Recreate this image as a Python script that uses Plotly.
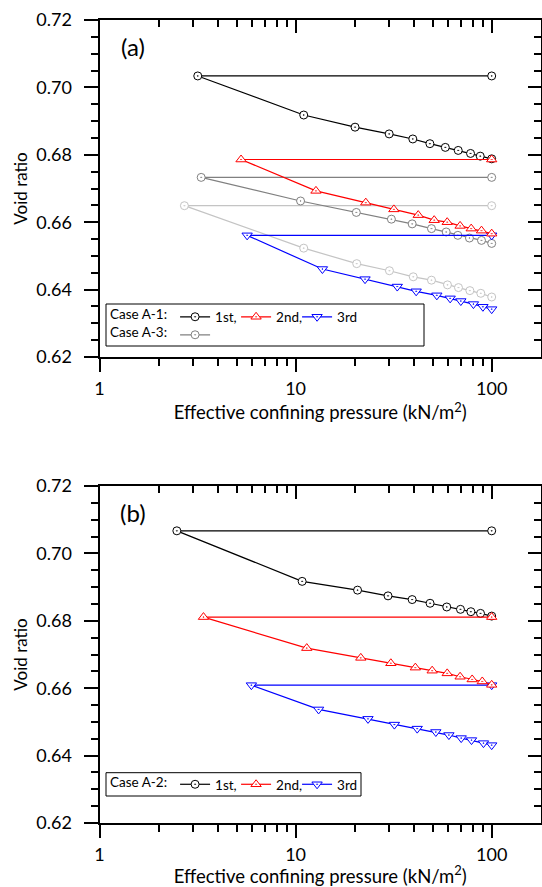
import plotly.graph_objects as go

# ---------------- data ----------------
# Panel (a)
a1_1st_p = [3.17, 11.0, 20.1, 30.0, 39.6, 48.4, 58.0, 67.5, 78.0, 87.4, 100]
a1_1st_e = [0.7034, 0.6918, 0.6882, 0.6862, 0.6847, 0.6833, 0.6822, 0.6813, 0.6804, 0.6796, 0.6788]
a1_2nd_p = [5.27, 12.7, 22.8, 31.7, 42.2, 50.9, 59.3, 69.0, 78.6, 88.7, 100]
a1_2nd_e = [0.6786, 0.6693, 0.6658, 0.6638, 0.6621, 0.6606, 0.6600, 0.6589, 0.6581, 0.6575, 0.6566]
a1_3rd_p = [5.66, 13.7, 22.6, 33.0, 41.2, 52.5, 61.4, 69.6, 80.7, 90.2, 100]
a1_3rd_e = [0.6561, 0.6461, 0.6431, 0.6409, 0.6395, 0.6383, 0.6374, 0.6366, 0.6357, 0.6349, 0.6342]
a3_1st_p = [3.3, 10.6, 20.4, 30.8, 39.3, 49.3, 58.6, 67.2, 77.0, 88.7, 100]
a3_1st_e = [0.6733, 0.6663, 0.6629, 0.6609, 0.6595, 0.6581, 0.6571, 0.6561, 0.6553, 0.6546, 0.6537]
a3_2nd_p = [2.71, 11.0, 20.5, 30.1, 39.8, 49.3, 59.5, 67.7, 77.4, 88.0, 100]
a3_2nd_e = [0.6649, 0.6523, 0.6477, 0.6456, 0.6438, 0.6428, 0.6414, 0.6406, 0.6397, 0.6389, 0.6378]

# Panel (b)
a2_1st_p = [2.48, 10.8, 20.7, 29.6, 39.3, 48.5, 59.0, 69.3, 78.3, 87.7, 100]
a2_1st_e = [0.7067, 0.6917, 0.6891, 0.6874, 0.6863, 0.6852, 0.6841, 0.6834, 0.6827, 0.6822, 0.6814]
a2_2nd_p = [3.39, 11.4, 21.5, 30.6, 40.8, 49.7, 59.3, 69.0, 79.5, 89.5, 100]
a2_2nd_e = [0.6811, 0.6719, 0.6690, 0.6674, 0.6661, 0.6652, 0.6644, 0.6634, 0.6626, 0.6620, 0.6610]
a2_3rd_p = [5.95, 13.1, 23.4, 31.9, 41.7, 51.9, 60.5, 69.9, 78.9, 90.8, 100]
a2_3rd_e = [0.6609, 0.6537, 0.6509, 0.6492, 0.6480, 0.6470, 0.6461, 0.6452, 0.6446, 0.6437, 0.6431]

x_ticks = [1, 10, 100]
x_minor = [2, 3, 4, 5, 6, 7, 8, 9, 20, 30, 40, 50, 60, 70, 80, 90]
y_ticks = [0.62, 0.64, 0.66, 0.68, 0.70, 0.72]

FONT = "Lato"
W, H = 542, 887

fig = go.Figure()


def add_series(p, e, color, symbol, size, xa, ya, name, legend, showlegend):
    # horizontal segment from the end pressure back to the initial state, then the loading path
    xs = [p[-1]] + list(p)
    ys = [e[0]] + list(e)
    fig.add_trace(go.Scatter(
        x=xs, y=ys, xaxis=xa, yaxis=ya, mode="lines+markers", name=name,
        legend=legend, showlegend=showlegend,
        line=dict(color=color, width=1.2),
        marker=dict(symbol=symbol, size=size, color="white",
                    line=dict(color=color, width=1)),
    ))


# red / blue series are plotted against the frame (top / right) axes, which share
# the exact same ranges, so that those frame axes are drawn.
add_series(a3_2nd_p, a3_2nd_e, "#c4c4c4", "circle-dot", 8, "x", "y", " ", "legend2", False)
add_series(a3_1st_p, a3_1st_e, "#808080", "circle-dot", 8, "x", "y", " ", "legend2", True)
add_series(a1_1st_p, a1_1st_e, "black", "circle-dot", 8, "x", "y", "1st,", "legend", True)
add_series(a1_2nd_p, a1_2nd_e, "#ff0000", "triangle-up-dot", 9, "x3", "y", "2nd,", "legend", True)
add_series(a1_3rd_p, a1_3rd_e, "#0000ff", "triangle-down-dot", 9, "x", "y3", "3rd", "legend", True)

add_series(a2_1st_p, a2_1st_e, "black", "circle-dot", 8, "x2", "y2", "1st,", "legend3", True)
add_series(a2_2nd_p, a2_2nd_e, "#ff0000", "triangle-up-dot", 9, "x4", "y2", "2nd,", "legend3", True)
add_series(a2_3rd_p, a2_3rd_e, "#0000ff", "triangle-down-dot", 9, "x2", "y4", "3rd", "legend3", True)

# ---------------- layout ----------------
x_dom = [99.5 / W, 541 / W]
ya_dom = [1 - 357 / H, 1 - 20 / H]
yb_dom = [1 - 823 / H, 1 - 486 / H]
x_range = [0, 441.5 / 196.1]

tickfont = dict(family=FONT, size=18, color="black")


def xaxis_main(anchor):
    return dict(type="log", range=x_range, domain=x_dom, anchor=anchor,
                showline=True, linecolor="black", linewidth=2,
                ticks="outside", ticklen=13, tickwidth=2, tickcolor="black",
                tickmode="array", tickvals=x_ticks, ticktext=[str(v) for v in x_ticks],
                minor=dict(ticks="outside", ticklen=7, tickwidth=2, tickcolor="black",
                           tickmode="array", tickvals=x_minor, showgrid=False),
                showgrid=False, zeroline=False, tickfont=tickfont, ticklabelstandoff=1,
                title=dict(text="Effective confining pressure (kN/m<sup>2</sup>)",
                           font=dict(family=FONT, size=18.5, color="black"), standoff=2),
                automargin=False)


def xaxis_top(over, anchor):
    return dict(type="log", range=x_range, domain=x_dom, anchor=anchor, overlaying=over,
                side="top", showline=True, linecolor="black", linewidth=2,
                ticks="inside", ticklen=13, tickwidth=2, tickcolor="black",
                tickmode="array", tickvals=x_ticks, showticklabels=False,
                minor=dict(ticks="inside", ticklen=7, tickwidth=2, tickcolor="black",
                           tickmode="array", tickvals=x_minor, showgrid=False),
                showgrid=False, zeroline=False, automargin=False)


def yaxis_main(dom, anchor):
    return dict(range=[0.62, 0.72], domain=dom, anchor=anchor,
                showline=True, linecolor="black", linewidth=2,
                ticks="outside", ticklen=14, tickwidth=2, tickcolor="black",
                tickmode="array", tickvals=y_ticks, ticktext=["%.2f" % v for v in y_ticks],
                minor=dict(ticks="outside", ticklen=7, tickwidth=2, tickcolor="black",
                           dtick=0.005, showgrid=False),
                showgrid=False, zeroline=False, tickfont=tickfont, ticklabelstandoff=8,
                title=dict(text="Void ratio", font=dict(family=FONT, size=17, color="black"),
                           standoff=4),
                automargin=False)


def yaxis_right(dom, over, anchor):
    return dict(range=[0.62, 0.72], domain=dom, anchor=anchor, overlaying=over,
                side="right", showline=True, linecolor="black", linewidth=2,
                ticks="inside", ticklen=13, tickwidth=2, tickcolor="black",
                tickmode="array", tickvals=y_ticks, showticklabels=False,
                minor=dict(ticks="inside", ticklen=7, tickwidth=2, tickcolor="black",
                           dtick=0.005, showgrid=False),
                showgrid=False, zeroline=False, automargin=False)


LEGFONT = dict(family=FONT, size=13.5, color="black")
legend_common = dict(orientation="h", xanchor="left", yanchor="middle",
                     bgcolor="rgba(0,0,0,0)", borderwidth=0,
                     font=LEGFONT, itemwidth=30, tracegroupgap=0,
                     entrywidth=16, entrywidthmode="pixels")

fig.update_layout(
    width=W, height=H, margin=dict(l=0, r=0, t=0, b=0),
    paper_bgcolor="white", plot_bgcolor="white",
    font=dict(family=FONT, color="black"),
    xaxis=xaxis_main("y"), yaxis=yaxis_main(ya_dom, "x"),
    xaxis2=xaxis_main("y2"), yaxis2=yaxis_main(yb_dom, "x2"),
    xaxis3=xaxis_top("x", "y"), yaxis3=yaxis_right(ya_dom, "y", "x"),
    xaxis4=xaxis_top("x2", "y2"), yaxis4=yaxis_right(yb_dom, "y2", "x2"),
    legend=dict(legend_common, x=108 / W, y=1 - 317 / H,
                title=dict(text="Case A-1:", side="left", font=LEGFONT)),
    legend2=dict(legend_common, x=108 / W, y=1 - 335 / H,
                 title=dict(text="Case A-3:", side="left", font=LEGFONT)),
    legend3=dict(legend_common, x=108 / W, y=1 - 784.5 / H,
                 title=dict(text="Case A-2:", side="left", font=LEGFONT)),
    shapes=[
        dict(type="rect", xref="paper", yref="paper",
             x0=106 / W, x1=424 / W, y0=1 - 346 / H, y1=1 - 304 / H,
             line=dict(color="black", width=1), fillcolor="rgba(0,0,0,0)", layer="above"),
        dict(type="rect", xref="paper", yref="paper",
             x0=106 / W, x1=361 / W, y0=1 - 796 / H, y1=1 - 772.7 / H,
             line=dict(color="black", width=1), fillcolor="rgba(0,0,0,0)", layer="above"),
    ],
    annotations=[
        dict(text="(a)", xref="x domain", yref="y domain", x=0.076, y=0.92,
             xanchor="center", yanchor="middle", showarrow=False,
             font=dict(family=FONT, size=24, color="black")),
        dict(text="(b)", xref="x2 domain", yref="y2 domain", x=0.076, y=0.92,
             xanchor="center", yanchor="middle", showarrow=False,
             font=dict(family=FONT, size=24, color="black")),
    ],
)

fig.write_html("out.html", config={"displayModeBar": False},
               post_script="document.body.style.margin='0';document.body.style.overflow='hidden';")
